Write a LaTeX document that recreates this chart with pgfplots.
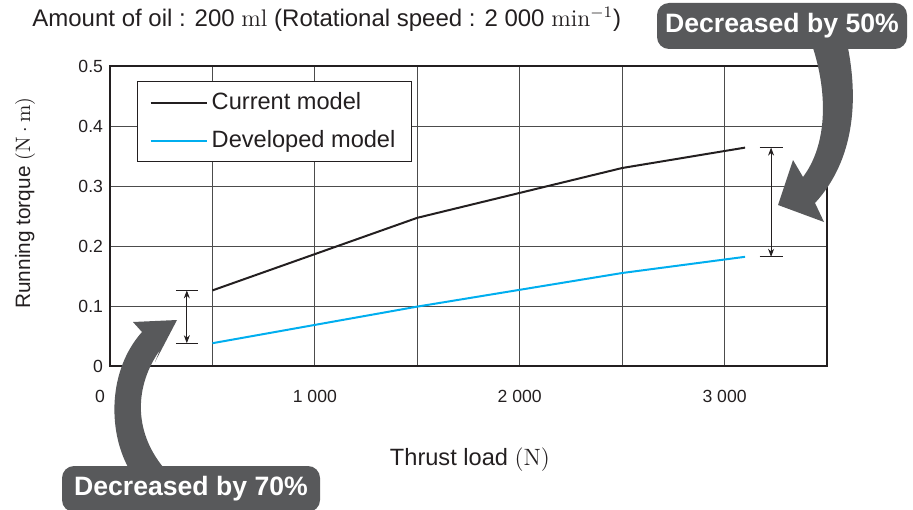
\documentclass[border=0pt]{standalone}
\usepackage{pgfplots}
\pgfplotsset{compat=1.18}
\usepackage{fontspec}
\setsansfont{Liberation Sans}
\usetikzlibrary{arrows.meta}

\definecolor{arrowgray}{HTML}{58595B}
\definecolor{devblue}{HTML}{00AEEF}
\definecolor{curblack}{HTML}{231F20}

\begin{document}
\begin{tikzpicture}
% page = 913 x 509 px, 1 px = 0.5pt, axis origin at px (110,366)
\path[use as bounding box] (-55pt,-71.5pt) rectangle (401.5pt,183pt);

\begin{axis}[
  at={(0,0)}, anchor=south west,
  scale only axis, width=358.5pt, height=150pt,
  xmin=0, xmax=3500, ymin=0, ymax=0.5,
  xtick={0,1000,2000,3000},
  xticklabels={{\makebox[0pt][r]{0\hspace{2.5pt}}},1 000,2 000,3 000},
  minor xtick={500,1500,2500},
  ytick={0,0.1,0.2,0.3,0.4,0.5},
  yticklabels={0,0.1,0.2,0.3,0.4,0.5},
  xmajorgrids, xminorgrids, ymajorgrids,
  grid style={black!70, line width=0.5pt},
  minor grid style={black!70, line width=0.5pt},
  major tick length=0pt, minor tick length=0pt,
  axis line style={curblack, line width=0.8pt},
  tick label style={font=\sffamily\fontsize{8.8}{10}\selectfont, text=curblack},
  xticklabel style={yshift=-8.4pt},
  xlabel={Thrust load \textrm{(N)}},
  ylabel={Running torque $(\mathrm{N}\cdot\mathrm{m})$},
  xlabel style={at={(axis description cs:0.502,-0.313)}, anchor=center,
    font=\sffamily\fontsize{11.8}{14}\selectfont, text=curblack},
  ylabel style={at={(axis description cs:-0.1185,0.543)}, anchor=center,
    font=\sffamily\fontsize{10.4}{12}\selectfont, text=curblack},
  legend style={at={(0.038,0.95)}, anchor=north west, draw=curblack,
    line width=0.5pt, fill=white, inner xsep=6pt, inner ysep=3.5pt, row sep=5pt,
    font=\sffamily\fontsize{11.8}{14}\selectfont, text=curblack},
  legend cell align=left,
  legend image code/.code={\draw[#1] (0pt,0pt) -- (28pt,0pt);},
]
\addplot[curblack, line width=1pt] coordinates {
  (500,0.126) (1500,0.247) (2500,0.330) (3100,0.364)};
\addlegendentry{Current model}
\addplot[devblue, line width=1pt] coordinates {
  (500,0.038) (1500,0.099) (2500,0.155) (3100,0.182)};
\addlegendentry{Developed model}

% difference brackets
\draw[curblack, line width=0.4pt] (axis cs:322,0.126) -- (axis cs:429,0.126);
\draw[curblack, line width=0.4pt] (axis cs:322,0.038) -- (axis cs:429,0.038);
\draw[curblack, line width=0.4pt, {Stealth[length=4pt]}-{Stealth[length=4pt]}]
  (axis cs:375,0.126) -- (axis cs:375,0.038);
\draw[curblack, line width=0.4pt] (axis cs:3171,0.364) -- (axis cs:3283,0.364);
\draw[curblack, line width=0.4pt] (axis cs:3171,0.182) -- (axis cs:3283,0.182);
\draw[curblack, line width=0.4pt, {Stealth[length=4pt]}-{Stealth[length=4pt]}]
  (axis cs:3227,0.364) -- (axis cs:3227,0.182);
\end{axis}

\begin{scope}[x=0.5pt, y=-0.5pt, shift={(-55pt,183pt)}]
  \node[anchor=west, inner sep=0pt, text=curblack,
    font=\sffamily\fontsize{12}{14}\selectfont] at (32,19)
    {Amount of oil : 200 \textrm{ml} (Rotational speed : 2 000 \textrm{min}$^{-1}$)};

  % top-right callout
  \fill[arrowgray] (813,48) .. controls (828,95) and (827,145) .. (803,177)
    -- (793,160) -- (778,205) -- (824,222) -- (815,203)
    .. controls (850,165) and (860,110) .. (848,48) -- cycle;
  \node[fill=arrowgray, rounded corners=6pt, minimum width=125pt, minimum height=23pt,
    text=white, font=\sffamily\bfseries\fontsize{13.3}{15}\selectfont] at (782,26)
    {Decreased by 50\%};

  % bottom-left callout
  \fill[arrowgray] (128,467) .. controls (108,430) and (108,370) .. (142,332)
    -- (133,322) -- (177,320) -- (155,362) -- (160,350)
    .. controls (135,385) and (133,430) .. (163,467) -- cycle;
  \node[fill=arrowgray, rounded corners=6pt, minimum width=129pt, minimum height=23pt,
    text=white, font=\sffamily\bfseries\fontsize{13.3}{15}\selectfont] at (191,489)
    {Decreased by 70\%};
\end{scope}
\end{tikzpicture}
\end{document}
